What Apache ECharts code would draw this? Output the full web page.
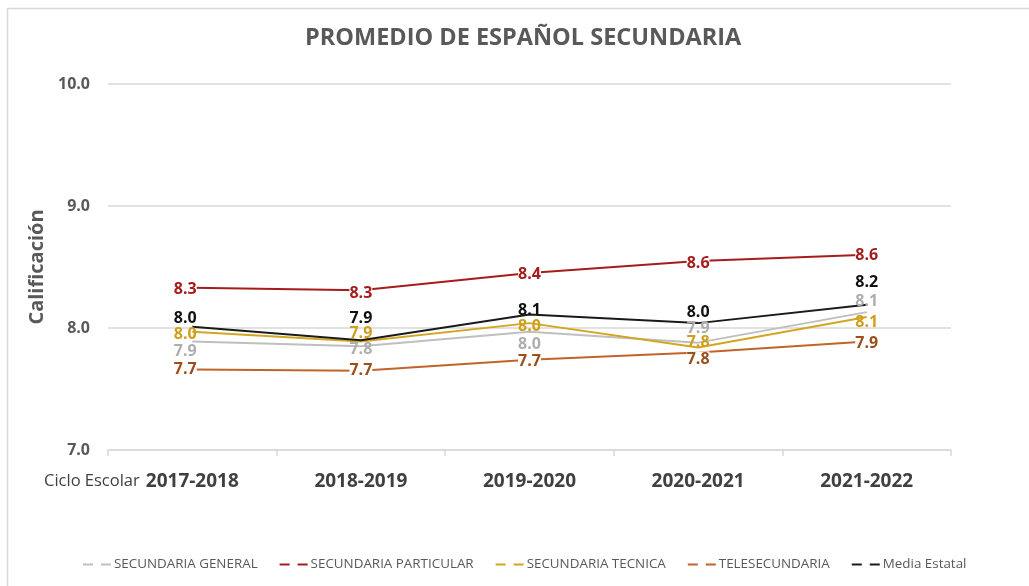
<!DOCTYPE html>
<html>
<head>
<meta charset="utf-8">
<script src="https://cdn.jsdelivr.net/npm/echarts@6/dist/echarts.min.js"></script>
<style>
  html, body { margin: 0; padding: 0; background: #fff; }
  #main { width: 1029px; height: 586px; }
</style>
</head>
<body>
<div id="main"></div>
<script>
// ciclos escolares
var ciclos = ['2017-2018', '2018-2019', '2019-2020', '2020-2021', '2021-2022'];
var yTicks = [7, 8, 9, 10];

// promedios por modalidad
var general = [7.89, 7.85, 7.97, 7.88, 8.13];
var particular = [8.33, 8.31, 8.45, 8.55, 8.60];
var tecnica = [7.97, 7.89, 8.04, 7.84, 8.09];
var telesecundaria = [7.66, 7.65, 7.74, 7.80, 7.89];
var mediaEstatal = [8.01, 7.90, 8.11, 8.04, 8.19];

var labelFont = 'Open Sans';

// desplazamiento de las etiquetas (px) respecto a cada punto
var offGeneral = [[-7, 10], [0, 3], [0, 13], [0, -14], [0, -11]];
var offParticular = [[-7, 2], [0, 3], [0, 1], [0, 3], [0, 1]];
var offTecnica = [[-7, 3], [0, -8], [0, 3], [0, -5], [0, 5]];
var offTele = [[-7, 0], [0, 0], [0, 2], [0, 7], [0, 2]];
var offMedia = [[-7, -8], [0, -22], [0, -4], [0, -11], [0, -22]];

function serie(name, values, offsets, lineColor, textColor, extra) {
  var s = {
    name: name,
    type: 'line',
    data: values,
    symbol: 'circle',
    symbolSize: 0,
    showSymbol: true,
    lineStyle: { color: lineColor, width: 2 },
    itemStyle: { color: lineColor },
    label: {
      show: true,
      position: 'inside',
      color: textColor,
      fontFamily: labelFont,
      fontWeight: 'bold',
      fontSize: 16,
      formatter: function (p) { return p.value.toFixed(1); }
    },
    labelLayout: function (params) {
      var o = offsets[params.dataIndex];
      return { dx: o[0], dy: o[1], hideOverlap: false };
    }
  };
  if (extra) s.label = Object.assign(s.label, extra);
  return s;
}

var myChart = echarts.init(document.getElementById('main'));
myChart.setOption({
  animation: false,
  title: {
    text: 'PROMEDIO DE ESPAÑOL SECUNDARIA',
    left: 300,
    top: 21,
    textStyle: {
      color: '#595959',
      fontFamily: labelFont,
      fontWeight: 'bold',
      fontSize: 23.5
    }
  },
  legend: {
    bottom: 10,
    left: 78,
    itemGap: 22,
    itemWidth: 28,
    itemHeight: 2,
    icon: 'path://M0,0H10V2H0Z M18,0H28V2H18Z',
    textStyle: { color: '#595959', fontFamily: labelFont, fontSize: 13.4, padding: [0, 0, 0, -2] },
    data: ['SECUNDARIA GENERAL', 'SECUNDARIA PARTICULAR', 'SECUNDARIA TECNICA', 'TELESECUNDARIA', 'Media Estatal']
  },
  graphic: [
    {
      type: 'rect',
      shape: { x: 7.5, y: 8.5, width: 1040, height: 600 },
      style: { fill: 'none', stroke: '#d9d9d9', lineWidth: 1.5 }
    },
    {
      type: 'text',
      left: 44,
      top: 473,
      style: { text: 'Ciclo Escolar', fill: '#404040', font: '16.5px "Open Sans"' }
    }
  ],
  grid: { left: 108, right: 78, top: 84, bottom: 136 },
  xAxis: {
    type: 'category',
    data: ciclos,
    boundaryGap: true,
    axisLine: { lineStyle: { color: '#d9d9d9', width: 1.5 } },
    axisTick: { show: true, length: 6, lineStyle: { color: '#d9d9d9', width: 1.5 } },
    axisLabel: {
      color: '#404040',
      fontFamily: labelFont,
      fontWeight: 'bold',
      fontSize: 19,
      margin: 22
    }
  },
  yAxis: {
    type: 'value',
    min: yTicks[0],
    max: yTicks[yTicks.length - 1],
    interval: 1,
    name: 'Calificación',
    nameLocation: 'middle',
    nameGap: 58,
    nameTextStyle: { color: '#595959', fontFamily: labelFont, fontWeight: 'bold', fontSize: 20 },
    axisLine: { show: false },
    axisTick: { show: false },
    splitLine: { lineStyle: { color: '#d9d9d9', width: 1.5 } },
    axisLabel: {
      color: '#595959',
      fontFamily: labelFont,
      fontWeight: 'bold',
      fontSize: 16,
      margin: 18,
      formatter: function (v) { return v.toFixed(1); }
    }
  },
  series: [
    serie('SECUNDARIA GENERAL', general, offGeneral, '#bfbfbf', '#aeaeae'),
    serie('SECUNDARIA PARTICULAR', particular, offParticular, '#a61c1c', '#a61c1c', { backgroundColor: '#fff', padding: [0, 0] }),
    serie('SECUNDARIA TECNICA', tecnica, offTecnica, '#d4a521', '#d1a01a'),
    serie('TELESECUNDARIA', telesecundaria, offTele, '#c0642a', '#9c4e1c', { backgroundColor: '#fff', padding: [0, 0] }),
    serie('Media Estatal', mediaEstatal, offMedia, '#1a1a1a', '#111111')
  ]
});
</script>
</body>
</html>
